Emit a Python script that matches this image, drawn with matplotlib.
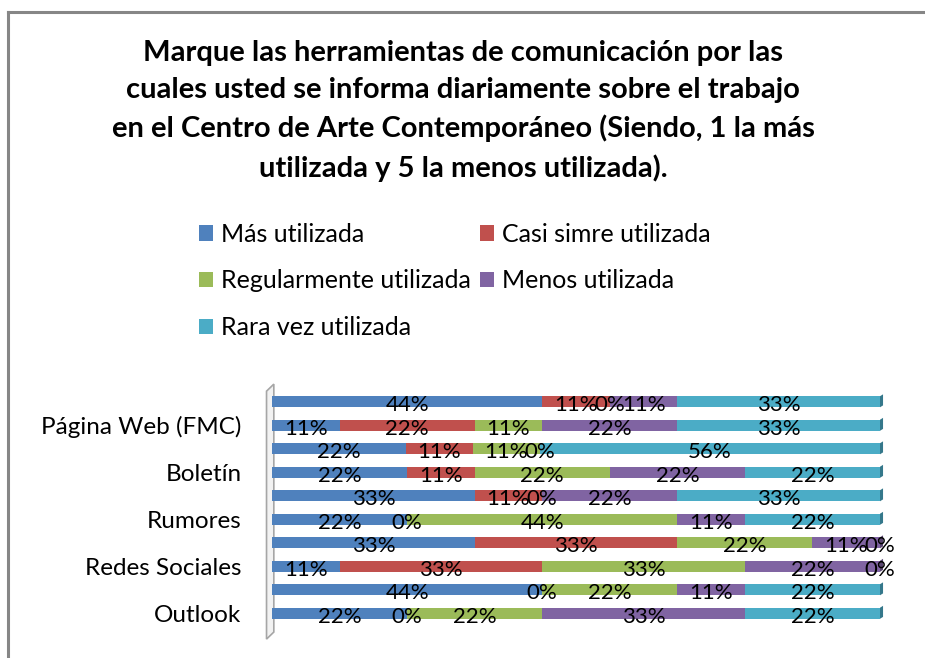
import matplotlib
matplotlib.use("Agg")
import matplotlib.pyplot as plt
from matplotlib.patches import Patch, Polygon
import matplotlib.colors as mcolors
import numpy as np

plt.rcParams['font.family'] = ['Lato', 'DejaVu Sans']

title = ("Marque las herramientas de comunicación por las\n"
         "cuales usted se informa diariamente sobre el trabajo\n"
         "en el Centro de Arte Contemporáneo (Siendo, 1 la más\n"
         "utilizada y 5 la menos utilizada).")

# 10 bars (top to bottom); only every other category label is shown in the original
categories = ["", "Página Web (FMC)", "", "Boletín", "", "Rumores", "",
              "Redes Sociales", "", "Outlook"]

series_names = ["Más utilizada", "Casi simre utilizada", "Regularmente utilizada",
                "Menos utilizada", "Rara vez utilizada"]
mas = [44, 11, 22, 22, 33, 22, 33, 11, 44, 22]
casi = [11, 22, 11, 11, 11, 0, 33, 33, 0, 0]
regular = [0, 11, 11, 22, 0, 44, 22, 33, 22, 22]
menos = [11, 22, 0, 22, 22, 11, 11, 22, 11, 33]
rara = [33, 33, 56, 22, 33, 22, 0, 0, 22, 22]
colors = ["#4F81BD", "#C0504D", "#9BBB59", "#8064A2", "#4BACC6"]

series = [mas, casi, regular, menos, rara]
vals = np.array(series, dtype=float)          # shape (5, 10)
totals = vals.sum(axis=0)
shares = vals / totals * 100                  # 100% stacked

W, H = 925, 658
fig = plt.figure(figsize=(W / 100, H / 100), dpi=100)

# chart border (top and left visible, rest clipped off)
fig.add_artist(plt.Line2D([8 / W, 8 / W], [0, 1 - 12 / H], transform=fig.transFigure,
                          color="#868686", lw=2.2))
fig.add_artist(plt.Line2D([8 / W, 1], [1 - 12 / H, 1 - 12 / H], transform=fig.transFigure,
                          color="#868686", lw=2.2))

fig.text(463 / W, 1 - 111 / H, title, ha="center", va="center", fontsize=21,
         fontweight="bold", linespacing=1.52, color="black")

ax_left, ax_right = 272, 880
ax_top, ax_bot = 390, 625
ax = fig.add_axes([ax_left / W, 1 - ax_bot / H, (ax_right - ax_left) / W, (ax_bot - ax_top) / H])

n = len(categories)
y = np.arange(n)
bar_h = 0.47
left = np.zeros(n)
for k in range(len(series)):
    ax.barh(y, shares[k], left=left, height=bar_h, color=colors[k], edgecolor="none",
            zorder=2)
    for i in range(n):
        cx = left[i] + shares[k][i] / 2
        ax.text(cx, y[i] + 0.14, f"{int(vals[k][i])}%", ha="center", va="center",
                fontsize=16, color="black", zorder=5)
    left = left + shares[k]

# 3D-like dark end caps on the right end of each bar
for i in range(n):
    last = max(k for k in range(len(series)) if vals[k][i] > 0)
    dark = np.array(mcolors.to_rgb(colors[last])) * 0.7
    x1 = left[i]
    top = y[i] - bar_h / 2
    bot = y[i] + bar_h / 2
    cap = Polygon([[x1, top], [x1 + 0.5, top - 0.08], [x1 + 0.5, bot - 0.08], [x1, bot]],
                  closed=True, facecolor=dark, edgecolor="none", zorder=3, clip_on=False)
    ax.add_patch(cap)

# 3D side wall at the left
wall = Polygon([[-0.9, 10.1], [-0.9, -0.45], [0.3, -0.75], [0.3, 9.8]], closed=True,
               facecolor="#f2f2f2", edgecolor="#a6a6a6", lw=1.2, zorder=1, clip_on=False)
ax.add_patch(wall)

ax.set_xlim(0, 100)
ax.set_ylim(n - 0.5, -0.5)
ax.set_xticks([])
shown = [i for i, c in enumerate(categories) if c]
ax.set_yticks(shown)
ax.set_yticklabels([categories[i] for i in shown], fontsize=17.5)
ax.tick_params(axis="y", length=0, pad=22)
for s in ax.spines.values():
    s.set_visible(False)
ax.patch.set_alpha(0)

# legend: row-wise order as in the reference (two columns)
handles = [Patch(facecolor=c, edgecolor="none") for c in colors]
order = [0, 2, 4, 1, 3]
leg = fig.legend([handles[i] for i in order], [series_names[i] for i in order],
                 ncol=2, loc="center", bbox_to_anchor=(455 / W, 1 - 281 / H),
                 frameon=False, fontsize=18, handlelength=0.56, handleheight=0.56,
                 handletextpad=0.32, columnspacing=0.36, labelspacing=0.95,
                 borderaxespad=0, borderpad=0)

fig.savefig("out.png", dpi=100)
